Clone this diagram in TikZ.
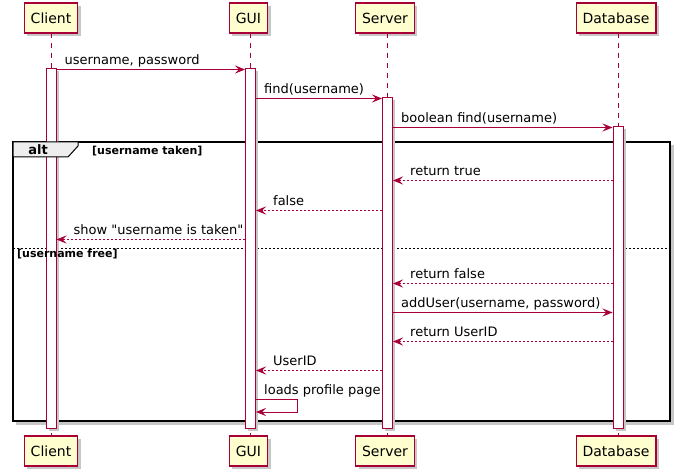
\documentclass[tikz,border=0pt]{standalone}
\usepackage{fontspec}
\setmainfont{DejaVu Sans}[Ligatures=TeXOff]
\usepackage{tikz}
\usetikzlibrary{arrows.meta,shadows}

\definecolor{umlred}{HTML}{A80036}
\definecolor{umlfill}{HTML}{FEFECE}
\definecolor{altfill}{HTML}{EEEEEE}

\tikzset{
    actor/.style={draw=umlred,fill=umlfill,line width=1.2pt,minimum height=30pt,inner xsep=6.5pt,
        font=\fontsize{14}{16}\selectfont,
        drop shadow={shadow xshift=3pt,shadow yshift=-3pt,fill=black!22,opacity=1}},
    lifeline/.style={draw=umlred,line width=0.8pt,dash pattern=on 5pt off 5pt},
    bar/.style={draw=umlred,fill=white,line width=1pt,minimum width=10pt,inner sep=0pt,
        drop shadow={shadow xshift=2.5pt,shadow yshift=-2.5pt,fill=black!22,opacity=1}},
    msg/.style={draw=umlred,line width=0.9pt,-{Stealth[length=10pt,width=8pt,inset=4pt]}},
    reply/.style={msg,dash pattern=on 2pt off 2pt},
    lbl/.style={anchor=base west,inner sep=0pt,font=\fontsize{13}{15}\selectfont},
    guard/.style={anchor=base west,inner sep=0pt,font=\fontsize{11}{13}\selectfont\bfseries},
}

\begin{document}
\begin{tikzpicture}[x=1pt,y=-1pt]
    \useasboundingbox (0,0) rectangle (681,476);

    % participants, top and bottom
    \node[actor] (client) at (51,18) {Client};
    \node[actor] (gui) at (248.5,18) {GUI};
    \node[actor] (server) at (385,18) {Server};
    \node[actor] (db) at (616,18) {Database};
    \node[actor] (clientB) at (51,451) {Client};
    \node[actor] (guiB) at (248.5,451) {GUI};
    \node[actor] (serverB) at (385,451) {Server};
    \node[actor] (dbB) at (616,451) {Database};

    \draw[lifeline] (51,33) -- (51,436);
    \draw[lifeline] (250,33) -- (250,436);
    \draw[lifeline] (387.5,33) -- (387.5,436);
    \draw[lifeline] (618,33) -- (618,436);

    % alt frame
    \draw[black!22,line width=3pt] (672.5,145) -- (672.5,423.5) -- (16,423.5);
    \draw[black,line width=1.5pt] (13,142) rectangle (670,421);
    \draw[black,line width=0.8pt,dash pattern=on 2pt off 2pt] (13,248) -- (670,248);

    % activation bars
    \node[bar,minimum height=359pt] (cbar) at (51,248.5) {};
    \node[bar,minimum height=359pt] (gbar) at (250.5,248.5) {};
    \node[bar,minimum height=330pt] (sbar) at (387.5,263) {};
    \node[bar,minimum height=301pt] (dbar) at (618,277.5) {};

    % alt tab and guards on top of the bars
    \draw[black,line width=1pt,fill=altfill] (13,142) -- (78,142) -- (78,146) -- (68,157) -- (13,157) -- cycle;
    \node[anchor=base,inner sep=0pt,font=\fontsize{13}{15}\selectfont\bfseries] (alt) at (38,155) {alt};
    \node[guard] (taken) at (92,155) {[username taken]};
    \node[guard] (free) at (17,258) {[username free]};

    % message rows
    \coordinate (r1) at (0,69.5);
    \coordinate (r2) at (0,98.5);
    \coordinate (r3) at (0,127.5);
    \coordinate (r4) at (0,180.5);
    \coordinate (r5) at (0,210.5);
    \coordinate (r6) at (0,239.5);
    \coordinate (r7) at (0,283.5);
    \coordinate (r8) at (0,312.5);
    \coordinate (r9) at (0,341.5);
    \coordinate (r10) at (0,370.5);
    \coordinate (r11) at (0,399.5);
    \coordinate (r12) at (0,412);
    \coordinate (loop) at (297.5,0);

    \draw[msg] (cbar.east |- r1) -- (gbar.west |- r1);
    \node[lbl] (m1) at ([xshift=8pt,yshift=5pt]cbar.east |- r1) {username, password};
    \draw[msg] (gbar.east |- r2) -- (sbar.west |- r2);
    \node[lbl] (m2) at ([xshift=8pt,yshift=5pt]gbar.east |- r2) {find(username)};
    \draw[msg] (sbar.east |- r3) -- (dbar.west |- r3);
    \node[lbl] (m3) at ([xshift=8pt,yshift=5pt]sbar.east |- r3) {boolean find(username)};

    \draw[reply] (dbar.west |- r4) -- (sbar.east |- r4);
    \node[lbl] (m4) at ([xshift=17pt,yshift=5pt]sbar.east |- r4) {return true};
    \draw[reply] (sbar.west |- r5) -- (gbar.east |- r5);
    \node[lbl] (m5) at ([xshift=17pt,yshift=5pt]gbar.east |- r5) {false};
    \draw[reply] (gbar.west |- r6) -- (cbar.east |- r6);
    \node[lbl] (m6) at ([xshift=17pt,yshift=5pt]cbar.east |- r6) {show "username is taken"};

    \draw[reply] (dbar.west |- r7) -- (sbar.east |- r7);
    \node[lbl] (m7) at ([xshift=17pt,yshift=5pt]sbar.east |- r7) {return false};
    \draw[msg] (sbar.east |- r8) -- (dbar.west |- r8);
    \node[lbl] (m8) at ([xshift=8pt,yshift=5pt]sbar.east |- r8) {addUser(username, password)};
    \draw[reply] (dbar.west |- r9) -- (sbar.east |- r9);
    \node[lbl] (m9) at ([xshift=17pt,yshift=5pt]sbar.east |- r9) {return UserID};
    \draw[reply] (sbar.west |- r10) -- (gbar.east |- r10);
    \node[lbl] (m10) at ([xshift=17pt,yshift=5pt]gbar.east |- r10) {UserID};

    \draw[msg] (gbar.east |- r11) -- (loop |- r11) -- (loop |- r12) -- (gbar.east |- r12);
    \node[lbl] (m11) at ([xshift=8pt,yshift=5pt]gbar.east |- r11) {loads profile page};
\end{tikzpicture}
\end{document}
